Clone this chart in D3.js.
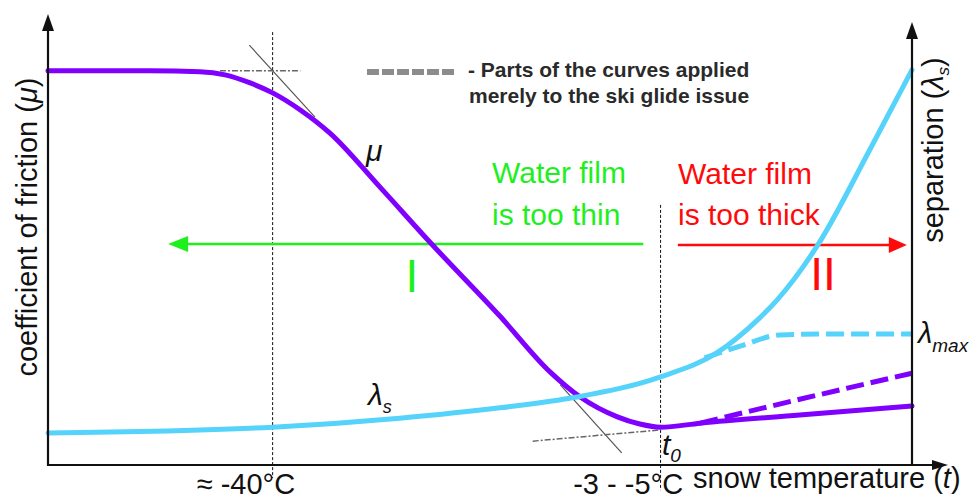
<html>
<head>
<script src="https://cdnjs.cloudflare.com/ajax/libs/d3/7.9.0/d3.min.js"></script>
<style>
  body { margin: 0; background: #fff; }
  text { font-family: "Liberation Sans", Arial, sans-serif; }
</style>
</head>
<body>
<svg id="chart" width="973" height="502"></svg>
<script>
// schematic data, x = position along snow temperature (0..100), y = relative level (0..100)
const muSolid = [[0,87.6],[11.8,87.6],[17.6,87.4],[20.5,86.7],[23.4,84.9],[26.0,82.7],[29.2,78.9],[32.6,73.8],
  [38.4,61.8],[44.4,49.1],[52.3,33.1],[58.1,20.7],[61.6,15.1],[65.9,10.7],[68.5,9.1],[70.9,8.4],[75.5,9.3],[87.0,11.1],[100,13.1]]
const muDashed = [[75.5,9.3],[87.0,14.6],[100,20.4]]
const lambdaSolid = [[0,7.1],[26.0,8.4],[40.7,10.4],[52.3,12.7],[61.2,15.1],[70.9,19.6],[77.4,24.9],[82.1,32.2],
  [84.4,36.7],[89.1,48.9],[95.1,70.0],[100,87.8]]
const lambdaDashed = [[76.0,23.8],[80.1,26.4],[84.7,28.9],[89.4,29.1],[100,29.1]]

const refLines = [[26.0,96.2,-2.9],[70.9,57.8,-5.6]]
const tangentSolid = [[[23.3,93.3],[30.9,77.3]],[[59.3,17.8],[66.4,2.7]]]
const tangentDashDot = [[[19.9,87.6],[29.2,87.6]],[[56.1,5.3],[70.9,7.8]]]

const tickPos = [26.0, 70.9]
const tickLabels = ['≈ -40°C', '-3 - -5°C']

const thinArrow = [68.9, 13.9, 49.1]
const thickArrow = [72.9, 99.4, 48.9]

const purple = '#7f00ff'
const cyan = '#55d3fb'
const green = '#1ef01e'
const red = '#ff0a0a'

const svg = d3.select('#chart')
const x = d3.scaleLinear([0, 100], [48, 912])
const y = d3.scaleLinear([0, 100], [465, 15])

function head(g, tx, ty, angle, len, half, fill) {
  g.append('path')
    .attr('d', `M0,0L${-len},${-half}L${-len},${half}Z`)
    .attr('transform', `translate(${tx},${ty}) rotate(${angle})`)
    .attr('fill', fill)
}

// guide lines
const guides = svg.append('g')
guides.selectAll('.ref')
  .data(refLines)
  .enter()
  .append('line')
  .attr('x1', d => x(d[0])).attr('x2', d => x(d[0]))
  .attr('y1', d => y(d[1])).attr('y2', d => y(d[2]))
  .attr('stroke', '#111')
  .attr('stroke-width', 1)
  .attr('stroke-dasharray', '3,2')

const straight = d3.line().x(d => x(d[0])).y(d => y(d[1]))
guides.selectAll('.tan')
  .data(tangentSolid)
  .enter()
  .append('path')
  .attr('d', straight)
  .attr('stroke', '#555')
  .attr('stroke-width', 1.2)
  .attr('fill', 'none')
guides.selectAll('.tan2')
  .data(tangentDashDot)
  .enter()
  .append('path')
  .attr('d', straight)
  .attr('stroke', '#666')
  .attr('stroke-width', 1.5)
  .attr('stroke-dasharray', '6,2,2,2')
  .attr('fill', 'none')

// region arrows
const arrows = svg.append('g')
arrows.append('line')
  .attr('x1', x(thinArrow[0])).attr('x2', x(thinArrow[1]) + 12)
  .attr('y1', y(thinArrow[2])).attr('y2', y(thinArrow[2]))
  .attr('stroke', green).attr('stroke-width', 2.5)
head(arrows, x(thinArrow[1]), y(thinArrow[2]), 180, 20, 8, green)
arrows.append('line')
  .attr('x1', x(thickArrow[0])).attr('x2', x(thickArrow[1]) - 12)
  .attr('y1', y(thickArrow[2])).attr('y2', y(thickArrow[2]))
  .attr('stroke', red).attr('stroke-width', 2.5)
head(arrows, x(thickArrow[1]), y(thickArrow[2]), 0, 18, 8, red)

// curves
const curve = d3.line().x(d => x(d[0])).y(d => y(d[1])).curve(d3.curveMonotoneX)
const curves = svg.append('g').attr('fill', 'none').attr('stroke-width', 5)
curves.append('path').attr('d', curve(muSolid)).attr('stroke', purple).attr('stroke-linecap', 'round')
curves.append('path').attr('d', curve(muDashed)).attr('stroke', purple).attr('stroke-dasharray', '18,7')
curves.append('path').attr('d', curve(lambdaSolid)).attr('stroke', cyan).attr('stroke-linecap', 'round')
curves.append('path').attr('d', curve(lambdaDashed)).attr('stroke', cyan).attr('stroke-dasharray', '18,7')

// axes
const axes = svg.append('g')
axes.append('line')
  .attr('x1', x(0)).attr('x2', x(0)).attr('y1', y(0) + 1).attr('y2', 28)
  .attr('stroke', '#111').attr('stroke-width', 2.2)
head(axes, x(0), 14, -90, 17, 6, '#111')
axes.append('line')
  .attr('x1', x(100)).attr('x2', x(100)).attr('y1', y(0) + 1).attr('y2', 36)
  .attr('stroke', '#111').attr('stroke-width', 2.2)
head(axes, x(100), 22, -90, 17, 6, '#111')
axes.append('line')
  .attr('x1', x(0) - 1).attr('x2', 935).attr('y1', y(0)).attr('y2', y(0))
  .attr('stroke', '#111').attr('stroke-width', 2.2)
head(axes, 948, y(0), 0, 16, 5, '#111')

const xAxis = svg.append('g')
  .attr('transform', `translate(0,${y(0)})`)
  .call(d3.axisBottom(x).tickValues(tickPos).tickFormat((d, i) => tickLabels[i]).tickSize(0).tickPadding(8))
xAxis.select('.domain').remove()
xAxis.selectAll('text')
  .attr('text-anchor', 'end')
  .attr('dx', 22)
  .attr('fill', '#111')
  .style('font-size', '29px')
  .style('font-family', '"Liberation Sans", Arial, sans-serif')

// axis titles
const labels = svg.append('g').attr('fill', '#111')
const xt = labels.append('text').attr('x', 693).attr('y', 488).style('font-size', '29px')
xt.append('tspan').text('snow temperature (')
xt.append('tspan').style('font-style', 'italic').text('t')
xt.append('tspan').text(')')

const yl = labels.append('text')
  .attr('transform', 'translate(37,227) rotate(-90)')
  .attr('text-anchor', 'middle')
  .style('font-size', '29px')
yl.append('tspan').text('coefficient of friction (')
yl.append('tspan').style('font-style', 'italic').text('μ')
yl.append('tspan').text(')')

const yr = labels.append('text')
  .attr('transform', 'translate(943,150) rotate(-90)')
  .attr('text-anchor', 'middle')
  .style('font-size', '29px')
yr.append('tspan').text('separation (')
yr.append('tspan').style('font-style', 'italic').text('λ')
yr.append('tspan').style('font-style', 'italic').style('font-size', '17px').attr('dy', 6).text('s')
yr.append('tspan').attr('dy', -6).text(')')

// curve labels
labels.append('text').attr('x', 366).attr('y', 161).style('font-size', '30px').style('font-style', 'italic').text('μ')
const ls = labels.append('text').attr('x', 368).attr('y', 405).style('font-size', '30px').style('font-style', 'italic')
ls.append('tspan').text('λ')
ls.append('tspan').attr('dy', 8).style('font-size', '18px').text('s')
const lm = labels.append('text').attr('x', 918).attr('y', 343).style('font-size', '29px').style('font-style', 'italic')
lm.append('tspan').text('λ')
lm.append('tspan').attr('dy', 9).style('font-size', '19px').text('max')
const t0 = labels.append('text').attr('x', 662).attr('y', 455).style('font-size', '30px').style('font-style', 'italic')
t0.append('tspan').text('t')
t0.append('tspan').attr('dy', 7).style('font-size', '19px').text('0')

// legend
svg.append('line')
  .attr('x1', 367).attr('x2', 457).attr('y1', 72).attr('y2', 72)
  .attr('stroke', '#8c8c8c').attr('stroke-width', 6).attr('stroke-dasharray', '12,3')
const lg = svg.append('g').attr('fill', '#2a2a2a').style('font-size', '21px').style('font-weight', 'bold')
lg.append('text').attr('x', 468).attr('y', 77).text('- Parts of the curves applied')
lg.append('text').attr('x', 469).attr('y', 103).text('merely to the ski glide issue')

// region texts
const gz = svg.append('g').attr('fill', green).style('font-size', '30px')
gz.append('text').attr('x', 492).attr('y', 183).text('Water film')
gz.append('text').attr('x', 492).attr('y', 225).text('is too thin')
gz.append('text').attr('x', 412).attr('y', 292).attr('text-anchor', 'middle').style('font-size', '46px').text('I')
const rz = svg.append('g').attr('fill', red).style('font-size', '30px')
rz.append('text').attr('x', 678).attr('y', 184).text('Water film')
rz.append('text').attr('x', 678).attr('y', 225).text('is too thick')
rz.append('text').attr('x', 823).attr('y', 290).attr('text-anchor', 'middle').style('font-size', '46px').text('II')
</script>
</body>
</html>
